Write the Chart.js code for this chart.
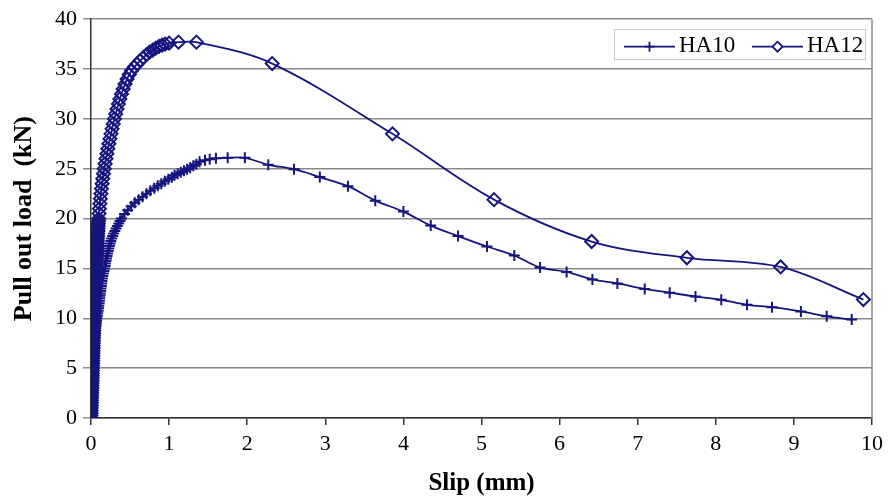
<!DOCTYPE html>
<html>
<head>
<meta charset="utf-8">
<script src="https://cdn.jsdelivr.net/npm/chart.js@4/dist/chart.umd.min.js"></script>
<style>
  html, body { margin: 0; padding: 0; background: #ffffff; }
  canvas { display: block; }
</style>
</head>
<body>
<canvas id="pullout" width="895" height="502"></canvas>
<script>
// Pull-out test: load vs slip for the two bar sizes
const seriesNames = ['HA10', 'HA12'];

const ha10Slip = [
  0, 0.001, 0.002, 0.003, 0.004, 0.005, 0.006, 0.007, 0.008, 0.009, 0.01, 0.011, 0.012, 0.013, 0.014, 0.015, 0.016, 0.017, 0.018, 0.02, 0.022,
  0.024, 0.026, 0.028, 0.03, 0.032, 0.034, 0.036, 0.038, 0.04, 0.042, 0.044, 0.047, 0.05, 0.053, 0.056, 0.059, 0.063, 0.067, 0.071, 0.076,
  0.081, 0.086, 0.091, 0.096, 0.1, 0.104, 0.108, 0.112, 0.116, 0.12, 0.124, 0.128, 0.132, 0.136, 0.14, 0.145, 0.15, 0.158, 0.166, 0.175,
  0.18, 0.186, 0.192, 0.198, 0.205, 0.212, 0.22, 0.228, 0.236, 0.245, 0.255, 0.265, 0.277, 0.29, 0.305, 0.32, 0.337, 0.355, 0.372, 0.39,
  0.43, 0.47, 0.515, 0.56, 0.61, 0.66, 0.71, 0.76, 0.81, 0.855, 0.9, 0.945, 0.99, 1.035, 1.07, 1.11, 1.15, 1.19, 1.23, 1.27,
  1.31, 1.35, 1.39, 1.46, 1.52, 1.6, 1.75, 1.97,
  2.27, 2.6, 2.93, 3.29, 3.64, 4.0, 4.35, 4.7, 5.07, 5.42, 5.75, 6.09, 6.42, 6.74, 7.09, 7.41, 7.74, 8.07, 8.4, 8.72, 9.09, 9.42, 9.74
];
const ha10Load = [
  0, 0.25, 0.5, 0.75, 1, 1.25, 1.5, 1.75, 2, 2.25, 2.5, 2.75, 3, 3.25, 3.5, 3.75, 4, 4.25, 4.5, 4.75, 5,
  5.25, 5.5, 5.75, 6, 6.25, 6.5, 6.75, 7, 7.25, 7.5, 7.75, 8, 8.25, 8.5, 8.75, 9, 9.25, 9.5, 9.75, 10,
  10.25, 10.5, 10.75, 11, 11.25, 11.5, 11.75, 12, 12.25, 12.5, 12.75, 13, 13.25, 13.5, 13.75, 14, 14.25, 14.5, 14.75, 15,
  15.25, 15.5, 15.75, 16, 16.25, 16.5, 16.75, 17, 17.25, 17.5, 17.75, 18, 18.25, 18.5, 18.75, 19, 19.25, 19.5, 19.75, 20,
  20.45, 20.85, 21.25, 21.6, 21.9, 22.2, 22.5, 22.8, 23.05, 23.3, 23.5, 23.75, 23.95, 24.15, 24.35, 24.5, 24.65, 24.8, 24.95, 25.1,
  25.3, 25.45, 25.7, 25.85, 25.95, 26.05, 26.1, 26.1,
  25.4, 24.95, 24.16, 23.25, 21.8, 20.7, 19.3, 18.25, 17.2, 16.3, 15.1, 14.65, 13.9, 13.5, 12.95, 12.57, 12.18, 11.85, 11.35, 11.12, 10.69, 10.2, 9.87
];

const ha12Slip = [
  0, 0, 0.001, 0.002, 0.003, 0.004, 0.005, 0.006, 0.007, 0.008, 0.009, 0.01, 0.011, 0.012, 0.013, 0.014, 0.015, 0.016, 0.017, 0.018, 0.019,
  0.02, 0.021, 0.022, 0.023, 0.024, 0.025, 0.026, 0.027, 0.028, 0.029, 0.03, 0.031, 0.032, 0.033, 0.034, 0.035, 0.036, 0.037, 0.038, 0.04,
  0.041, 0.042, 0.043, 0.044, 0.045, 0.046, 0.047, 0.048, 0.049, 0.05, 0.051, 0.052, 0.053, 0.054, 0.055, 0.056, 0.058, 0.06, 0.062, 0.064,
  0.066, 0.068, 0.07, 0.072, 0.073, 0.075, 0.076, 0.078, 0.079, 0.081, 0.082, 0.084, 0.085, 0.087, 0.088, 0.09, 0.092, 0.094, 0.096, 0.098,
  0.103, 0.108, 0.114, 0.12, 0.127, 0.134, 0.142, 0.151, 0.16, 0.17, 0.181, 0.192, 0.204, 0.216, 0.229, 0.242, 0.256, 0.27, 0.285, 0.3,
  0.316, 0.333, 0.351, 0.37, 0.39, 0.412, 0.436, 0.462,
  0.49, 0.52, 0.555, 0.59, 0.63, 0.67, 0.71, 0.75, 0.79, 0.83, 0.87, 0.91, 0.95, 1.0,
  1.12, 1.35, 2.32, 3.86, 5.16, 6.41, 7.63, 8.83, 9.89
];
const ha12Load = [
  0, 0.25, 0.5, 0.75, 1, 1.25, 1.5, 1.75, 2, 2.25, 2.5, 2.75, 3, 3.25, 3.5, 3.75, 4, 4.25, 4.5, 4.75, 5,
  5.25, 5.5, 5.75, 6, 6.25, 6.5, 6.75, 7, 7.25, 7.5, 7.75, 8, 8.25, 8.5, 8.75, 9, 9.25, 9.5, 9.75, 10,
  10.25, 10.5, 10.75, 11, 11.25, 11.5, 11.75, 12, 12.25, 12.5, 12.75, 13, 13.25, 13.5, 13.75, 14, 14.25, 14.5, 14.75, 15,
  15.25, 15.5, 15.75, 16, 16.25, 16.5, 16.75, 17, 17.25, 17.5, 17.75, 18, 18.25, 18.5, 18.75, 19, 19.25, 19.5, 19.75, 20,
  20.5, 21, 21.5, 22, 22.5, 23, 23.5, 24, 24.5, 25, 25.5, 26, 26.5, 27, 27.5, 28, 28.5, 29, 29.5, 30,
  30.5, 31, 31.5, 32, 32.5, 33, 33.5, 34,
  34.45, 34.85, 35.2, 35.5, 35.85, 36.15, 36.45, 36.7, 36.9, 37.1, 37.27, 37.4, 37.5, 37.6,
  37.7, 37.7, 35.55, 28.5, 21.9, 17.7, 16.07, 15.15, 11.88
];

const slipTicks = [0, 1, 2, 3, 4, 5, 6, 7, 8, 9, 10];
const loadTicks = [0, 5, 10, 15, 20, 25, 30, 35, 40];

const navy = '#15157f';
const serif = "'Liberation Serif', 'Times New Roman', serif";

function toPoints(xs, ys) {
  return xs.map((x, i) => ({ x: x, y: ys[i] }));
}

// Legend drawn as a framed box inside the top-right of the plot area
const boxedLegend = {
  id: 'boxedLegend',
  afterDatasetsDraw(chart) {
    const ctx = chart.ctx;
    const area = chart.chartArea;
    const right = area.right - 6;
    const top = area.top + 10;
    const w = 252, h = 31;
    const left = right - w;
    ctx.save();
    ctx.fillStyle = '#ffffff';
    ctx.fillRect(left, top, w, h);
    ctx.strokeStyle = '#c8c8c8';
    ctx.lineWidth = 1;
    ctx.strokeRect(left + 0.5, top + 0.5, w - 1, h - 1);
    const cy = top + h / 2 + 2;
    const items = [
      { x: left + 10, ds: chart.data.datasets[0] },
      { x: left + 138, ds: chart.data.datasets[1] }
    ];
    ctx.font = '23px ' + serif;
    ctx.textBaseline = 'middle';
    items.forEach(it => {
      ctx.strokeStyle = it.ds.borderColor;
      ctx.lineWidth = 1.8;
      ctx.beginPath();
      ctx.moveTo(it.x, cy);
      ctx.lineTo(it.x + 51, cy);
      ctx.stroke();
      ctx.fillStyle = '#ffffff';
      Chart.helpers.drawPoint(ctx, {
        pointStyle: it.ds.pointStyle,
        radius: 5,
        borderWidth: it.ds.pointBorderWidth,
        rotation: 0
      }, it.x + 25.5, cy);
      ctx.fillStyle = '#000000';
      ctx.fillText(it.ds.label, it.x + 55, cy - 1);
    });
    ctx.restore();
  }
};

// Right-hand frame line of the plot area
const plotFrame = {
  id: 'plotFrame',
  beforeDatasetsDraw(chart) {
    const ctx = chart.ctx;
    const a = chart.chartArea;
    ctx.save();
    ctx.strokeStyle = '#8a8a8a';
    ctx.lineWidth = 1.5;
    ctx.beginPath();
    ctx.moveTo(a.right, a.top);
    ctx.lineTo(a.right, a.bottom);
    ctx.stroke();
    ctx.restore();
  }
};

new Chart(document.getElementById('pullout'), {
  type: 'line',
  data: {
    datasets: [
      {
        label: seriesNames[0],
        data: toPoints(ha10Slip, ha10Load),
        borderColor: navy,
        backgroundColor: navy,
        borderWidth: 1.8,
        pointStyle: 'cross',
        pointRadius: 5.5,
        pointBorderWidth: 2,
        pointBorderColor: navy,
        pointBackgroundColor: 'rgba(0,0,0,0)',
        tension: 0.35,
        fill: false
      },
      {
        label: seriesNames[1],
        data: toPoints(ha12Slip, ha12Load),
        borderColor: navy,
        backgroundColor: navy,
        borderWidth: 1.8,
        pointStyle: 'rectRot',
        pointRadius: 6.5,
        pointBorderWidth: 2,
        pointBorderColor: navy,
        pointBackgroundColor: 'rgba(0,0,0,0)',
        tension: 0.35,
        fill: false
      }
    ]
  },
  options: {
    responsive: false,
    animation: false,
    parsing: false,
    layout: { padding: { top: 14, right: 23, left: 0, bottom: 0 } },
    plugins: {
      legend: { display: false },
      tooltip: { enabled: false }
    },
    scales: {
      x: {
        type: 'linear',
        min: 0,
        max: 10,
        afterBuildTicks: s => { s.ticks = slipTicks.map(v => ({ value: v })); },
        afterFit: s => { s.height = 84; },
        ticks: { color: '#000', font: { family: serif, size: 22 }, padding: 6, maxRotation: 0 },
        grid: { drawOnChartArea: false, drawTicks: true, tickLength: 7, color: '#333333', lineWidth: 1.5 },
        border: { color: '#333333', width: 1.5 },
        title: {
          display: true,
          text: 'Slip (mm)',
          color: '#000',
          font: { family: serif, size: 25, weight: 'bold' },
          padding: { top: 0, bottom: 3 }
        }
      },
      y: {
        type: 'linear',
        min: 0,
        max: 40,
        afterBuildTicks: s => { s.ticks = loadTicks.map(v => ({ value: v })); },
        afterFit: s => { s.width = 91; },
        ticks: { color: '#000', font: { family: serif, size: 22 }, padding: 6 },
        grid: { color: '#8a8a8a', lineWidth: 1.5, tickLength: 8 },
        border: { color: '#333333', width: 1.5 },
        title: {
          display: true,
          text: 'Pull out load  (kN)',
          color: '#000',
          font: { family: serif, size: 26, weight: 'bold' },
          padding: { top: 9, bottom: 0 }
        }
      }
    }
  },
  plugins: [plotFrame, boxedLegend]
});
</script>
</body>
</html>
